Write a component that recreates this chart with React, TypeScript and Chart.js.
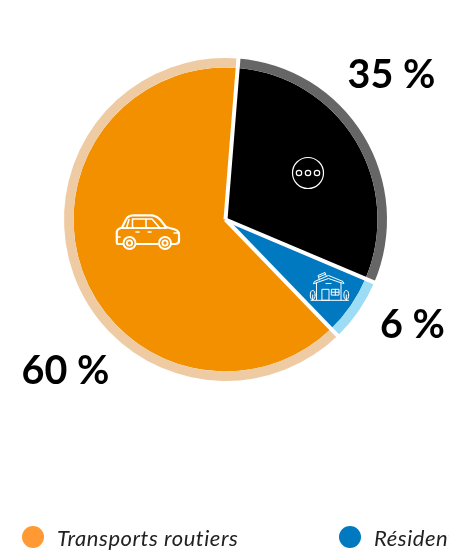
import React, { useEffect, useRef } from "react";
import { Chart, registerables } from "chart.js";

Chart.register(...registerables);

const categories = ["Transports routiers", "Autres", "Résidentiel"];
const arcShares = [63.5, 30.1, 6.4];
const valueLabels = ["60 %", "35 %", "6 %"];
const fillColors = ["#F39000", "#000000", "#0079C1"];
const ringColors = ["#EFCBA4", "#666666", "#9CDCF5"];
const legendEntries = [
  { name: categories[0], color: "#FF9933", x: 22 },
  { name: categories[2], color: "#0079C1", x: 339 },
];
const labelSpots = [
  { x: 21.5, y: 384 },
  { x: 347.5, y: 88 },
  { x: 380, y: 338 },
];

const FONT = "Lato, 'Noto Sans', sans-serif";

function drawCar(c: CanvasRenderingContext2D) {
  c.lineWidth = 2.2;
  c.beginPath();
  c.moveTo(122.5, 244);
  c.lineTo(118, 244);
  c.quadraticCurveTo(116.8, 244, 116.8, 242);
  c.lineTo(116.8, 232);
  c.quadraticCurveTo(117, 229, 122, 227.5);
  c.lineTo(126, 219.5);
  c.quadraticCurveTo(128, 215.5, 133, 215.3);
  c.lineTo(151, 215.3);
  c.quadraticCurveTo(156, 215.5, 160, 219.5);
  c.lineTo(166, 227);
  c.lineTo(175, 229.5);
  c.quadraticCurveTo(179, 231, 179, 235);
  c.lineTo(179, 241);
  c.quadraticCurveTo(179, 243.5, 176, 243.8);
  c.lineTo(171, 244);
  c.moveTo(136, 244);
  c.lineTo(157.5, 244);
  c.moveTo(122, 228);
  c.lineTo(166, 228);
  c.stroke();
  c.lineWidth = 1.6;
  c.beginPath();
  c.moveTo(126.5, 228);
  c.lineTo(129, 219.5);
  c.moveTo(132.5, 228);
  c.lineTo(132.5, 219);
  c.lineTo(152, 219);
  c.lineTo(159, 227);
  c.moveTo(146, 219);
  c.lineTo(146, 228);
  c.moveTo(136, 232);
  c.lineTo(139, 232);
  c.moveTo(148, 232);
  c.lineTo(151, 232);
  c.moveTo(174, 233);
  c.lineTo(179, 233);
  c.moveTo(117, 237);
  c.lineTo(120, 237);
  c.stroke();
  c.lineWidth = 1.9;
  for (const wx of [129.5, 165]) {
    c.beginPath();
    c.arc(wx, 243, 6, 0, Math.PI * 2);
    c.stroke();
    c.beginPath();
    c.arc(wx, 243, 2.6, 0, Math.PI * 2);
    c.stroke();
  }
}

function drawDots(c: CanvasRenderingContext2D) {
  c.lineWidth = 1.2;
  c.beginPath();
  c.arc(308, 173, 15.5, 0, Math.PI * 2);
  c.stroke();
  for (const dx of [299, 308, 317]) {
    c.beginPath();
    c.arc(dx, 173, 2.7, 0, Math.PI * 2);
    c.stroke();
  }
}

function drawHouse(c: CanvasRenderingContext2D) {
  c.lineWidth = 1;
  c.beginPath();
  c.moveTo(311, 300.3);
  c.lineTo(348.5, 300.3);
  c.moveTo(313.5, 283.5);
  c.lineTo(314.5, 281.5);
  c.lineTo(328.5, 275.5);
  c.lineTo(343, 281.5);
  c.lineTo(344, 283.5);
  c.lineTo(340, 282.5);
  c.lineTo(328.5, 278.5);
  c.lineTo(317, 282.5);
  c.closePath();
  c.moveTo(316.5, 283);
  c.lineTo(316.5, 300);
  c.moveTo(341, 283);
  c.lineTo(341, 300);
  c.moveTo(326, 283.5);
  c.lineTo(331, 283.5);
  c.rect(322.3, 289.3, 6.7, 11);
  c.rect(331.7, 289.3, 7.3, 5.8);
  c.moveTo(335.3, 289.3);
  c.lineTo(335.3, 295);
  c.moveTo(331.7, 292.2);
  c.lineTo(339, 292.2);
  c.moveTo(319.5, 280);
  c.lineTo(318, 275.5);
  c.lineTo(325, 272.5);
  c.lineTo(326, 275.5);
  c.moveTo(319, 277);
  c.lineTo(325, 274.5);
  c.stroke();
  for (const tx of [312.7, 346.3]) {
    c.beginPath();
    c.ellipse(tx, 295, 2.4, 4.5, 0, 0, Math.PI * 2);
    c.moveTo(tx, 295);
    c.lineTo(tx, 300);
    c.stroke();
  }
}

const overlay = {
  id: "overlay",
  afterDatasetsDraw(chart: any) {
    const c: CanvasRenderingContext2D = chart.ctx;
    const arcs = chart.getDatasetMeta(0).data;
    c.save();
    c.strokeStyle = "#FFFFFF";
    c.lineWidth = 4;
    c.lineCap = "butt";
    arcs.forEach((a: any) => {
      c.beginPath();
      c.moveTo(a.x, a.y);
      c.lineTo(
        a.x + Math.cos(a.startAngle) * (a.outerRadius + 3),
        a.y + Math.sin(a.startAngle) * (a.outerRadius + 3)
      );
      c.stroke();
    });
    c.lineCap = "round";
    c.lineJoin = "round";
    drawCar(c);
    drawDots(c);
    drawHouse(c);
    c.fillStyle = "#000000";
    c.font = `bold 39.5px ${FONT}`;
    c.textAlign = "left";
    c.textBaseline = "alphabetic";
    valueLabels.forEach((t, i) => c.fillText(t, labelSpots[i].x, labelSpots[i].y));
    c.restore();
  },
};

export default function App() {
  const ref = useRef<HTMLCanvasElement>(null);
  useEffect(() => {
    const chart = new Chart(ref.current!, {
      type: "pie",
      data: {
        labels: categories,
        datasets: [
          { data: arcShares, backgroundColor: ringColors, borderWidth: 0, weight: 9.5 },
          { data: arcShares, backgroundColor: fillColors, borderWidth: 0, weight: 152 },
        ],
      } as any,
      options: {
        responsive: false,
        animation: false,
        rotation: 136,
        radius: 161.5,
        layout: { padding: { left: 2, bottom: 111 } },
        plugins: { legend: { display: false }, tooltip: { enabled: false } },
        events: [],
      } as any,
      plugins: [overlay],
    });
    return () => chart.destroy();
  }, []);
  return (
    <div style={{ position: "fixed", left: 0, top: 0, width: 449, height: 550, overflow: "hidden", background: "#fff" }}>
      <canvas ref={ref} width={449} height={550} style={{ display: "block" }} />
      {legendEntries.map((e) => (
        <div key={e.name} style={{ position: "absolute", left: e.x, top: 526, height: 22, display: "flex", alignItems: "center", whiteSpace: "nowrap" }}>
          <span style={{ width: 22, height: 22, borderRadius: "50%", background: e.color, marginRight: 13, flex: "none" }} />
          <span style={{ font: `italic 400 22px ${FONT}`, letterSpacing: "0.55px", color: "#222" }}>{e.name}</span>
        </div>
      ))}
    </div>
  );
}
